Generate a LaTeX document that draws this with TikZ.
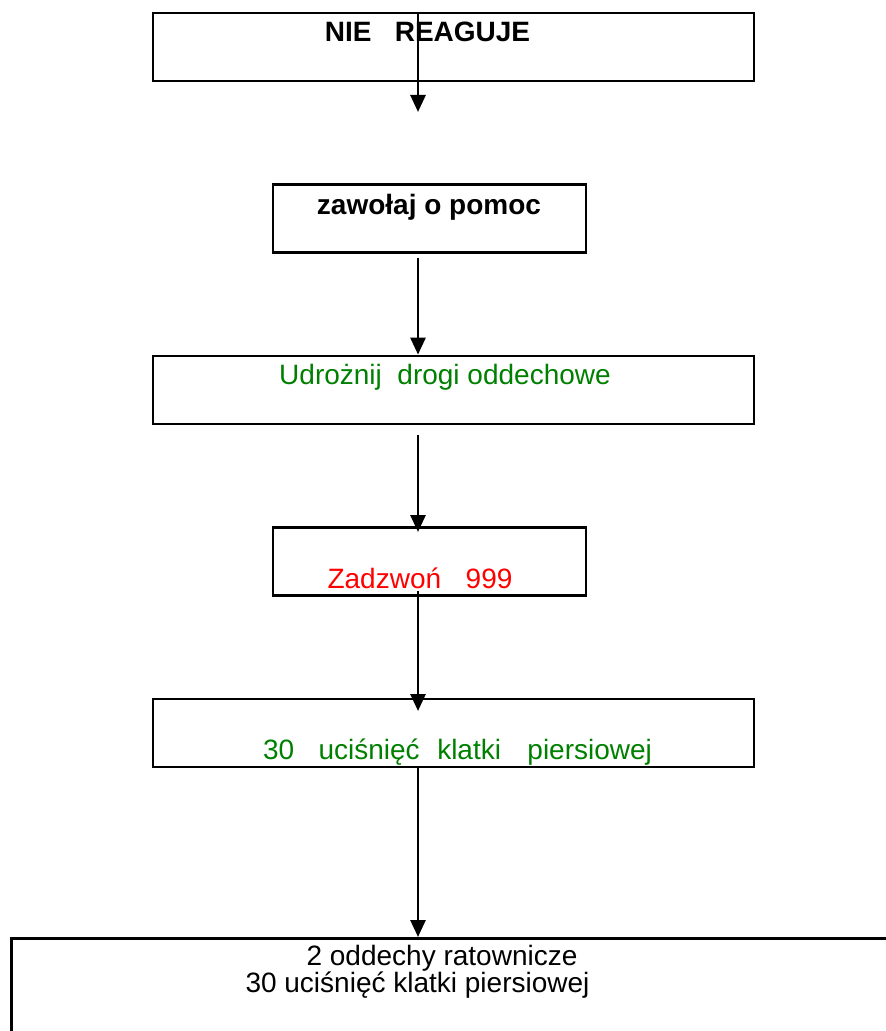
\documentclass[tikz,border=0pt]{standalone}
\usepackage{fontspec}
\setmainfont{Liberation Sans}
\usetikzlibrary{positioning}
\usetikzlibrary{arrows.meta}
\definecolor{okgreen}{RGB}{0,128,0}
\definecolor{okred}{RGB}{255,0,0}
\tikzset{
    stepbox/.style = {rectangle, draw=black, line width=1.4pt, inner sep=0pt},
    widebox/.style = {stepbox, minimum width=300.5pt, minimum height=34pt},
    narrowbox/.style = {stepbox, minimum width=156.5pt, minimum height=34pt},
    txtb/.style = {anchor=base, inner sep=0pt, font=\fontsize{14}{16}\selectfont\bfseries},
    txtg/.style = {anchor=base, inner sep=0pt, text=okgreen, font=\fontsize{14}{16}\selectfont},
    txtr/.style = {anchor=base, inner sep=0pt, text=okred, font=\fontsize{14}{16}\selectfont},
    txtn/.style = {anchor=base, inner sep=0pt, font=\fontsize{14}{16}\selectfont},
    edgen/.style = {-{Triangle[length=8.5pt,width=7.5pt]}, line width=1.4pt}
}
\begin{document}
\begin{tikzpicture}[x=0.5pt,y=-0.5pt]
\useasboundingbox (0,0) rectangle (886,1031);
\clip (0,0) rectangle (886,1031);
%
\node[widebox] at (453.5,47) (nie) {};
\node[narrowbox] at (429.5,218.5) (pomoc) {};
\node[widebox] at (453.5,390) (drogi) {};
\node[narrowbox] at (429.5,561.5) (dzwon) {};
\node[widebox] at (453.5,733) (ucisk) {};
\node[stepbox, anchor=north west, minimum width=460pt, minimum height=60pt] at (10,937) (cykl) {};
%
\node[txtb] at (427.5,42) (tnie) {NIE\ \ \ REAGUJE};
\node[txtb] at (429,215) (tpomoc) {zawołaj o pomoc};
\node[txtg] at (445,385) (tdrogi) {Udrożnij\ \ drogi oddechowe};
\node[txtr] at (420,588) (tdzwon) {Zadzwoń\hspace{12.3pt}999};
\node[txtg] at (457.5,759) (tucisk) {30\hspace{12.2pt}uciśnięć\hspace{8.8pt}klatki\hspace{13.2pt}piersiowej};
\node[txtn] at (442,965) (tcykl1) {2 oddechy ratownicze};
\node[txtn] at (417.5,992) (tcykl2) {30 uciśnięć klatki piersiowej};
%
\coordinate (s1) at (418,14);
\coordinate (e1) at (418,112);
\coordinate (s2) at (418,258);
\coordinate (s3) at (418,435);
\coordinate (e3) at (418,532);
\coordinate (s4) at (418,591);
\coordinate (e4) at (418,711);
%
\draw[edgen] (s1) -- (e1);
\draw[edgen] (s2) -- (s2 |- drogi.north);
\draw[edgen] (s3) -- (e3);
\draw[edgen] (s4) -- (e4);
\draw[edgen] (s4 |- ucisk.south) -- (s4 |- cykl.north);

\end{tikzpicture}
\end{document}
